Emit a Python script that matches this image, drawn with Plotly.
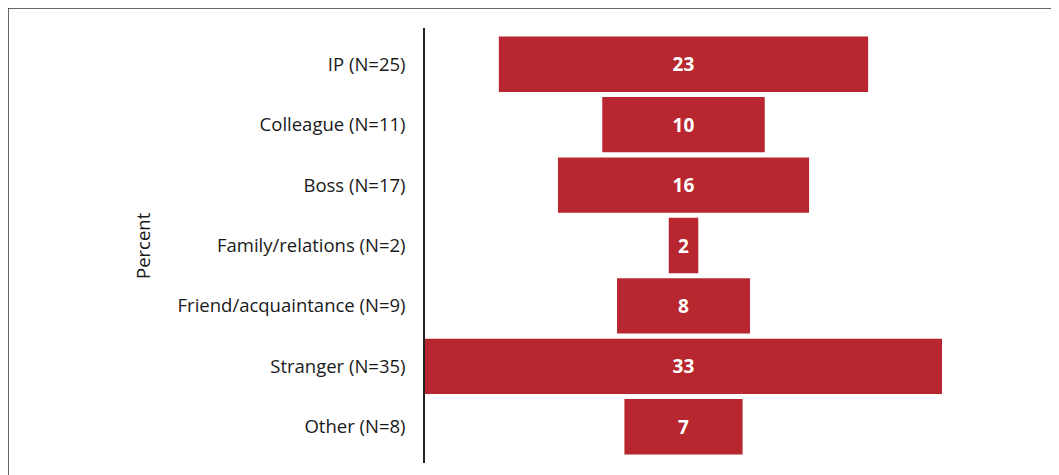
import plotly.graph_objects as go

categories = ["IP (N=25)", "Colleague (N=11)", "Boss (N=17)", "Family/relations (N=2)",
              "Friend/acquaintance (N=9)", "Stranger (N=35)", "Other (N=8)"]
counts = [25, 11, 17, 2, 9, 35, 8]
percents = [23, 10, 16, 2, 8, 33, 7]

W, H = 1059, 475
OFF = 8  # page body margin
L, R, T, B = 425 - OFF, 1059 - (942 - OFF), 28 - OFF, 475 - (463 - OFF)
pw, ph = W - L - R, H - T - B

def px_x(x):
    return (x - OFF - L) / pw

def px_y(y):
    return 1 - (y - OFF - T) / ph

FONT = "Open Sans"

fig = go.Figure(go.Funnel(
    y=categories,
    x=counts,
    text=[str(p) for p in percents],
    textinfo="text",
    textposition="inside",
    insidetextanchor="middle",
    textfont=dict(family=FONT, size=19, color="white", weight="bold"),
    marker=dict(color="#B8272F", line=dict(width=0)),
    connector=dict(visible=False),
    hoverinfo="skip",
))

fig.update_layout(
    width=W, height=H,
    margin=dict(l=L, r=R, t=T, b=B),
    paper_bgcolor="white", plot_bgcolor="white",
    showlegend=False,
    funnelgap=0.083,
    font=dict(family=FONT, size=18, color="#1a1a1a"),
    xaxis=dict(range=[-17.5, 17.5], visible=False, fixedrange=True),
    yaxis=dict(range=[6.6, -0.6], autorange=False, showline=True, linecolor="#222",
               linewidth=1.5, showgrid=False, zeroline=False, ticks="",
               ticklabelstandoff=14, tickfont=dict(family=FONT, size=18.5, color="#1a1a1a")),
    annotations=[dict(text="Percent", xref="paper", yref="paper", x=px_x(143), y=px_y(246),
                      showarrow=False, textangle=-90, xanchor="center", yanchor="middle",
                      font=dict(family=FONT, size=18.5, color="#1a1a1a"))],
    shapes=[
        dict(type="line", xref="paper", yref="paper", x0=px_x(8), x1=px_x(1080),
             y0=px_y(8), y1=px_y(8), line=dict(color="#333", width=1.5)),
        dict(type="line", xref="paper", yref="paper", x0=px_x(8), x1=px_x(8),
             y0=px_y(8), y1=px_y(490), line=dict(color="#333", width=1.5)),
    ],
)

fig.write_html("out.html")
